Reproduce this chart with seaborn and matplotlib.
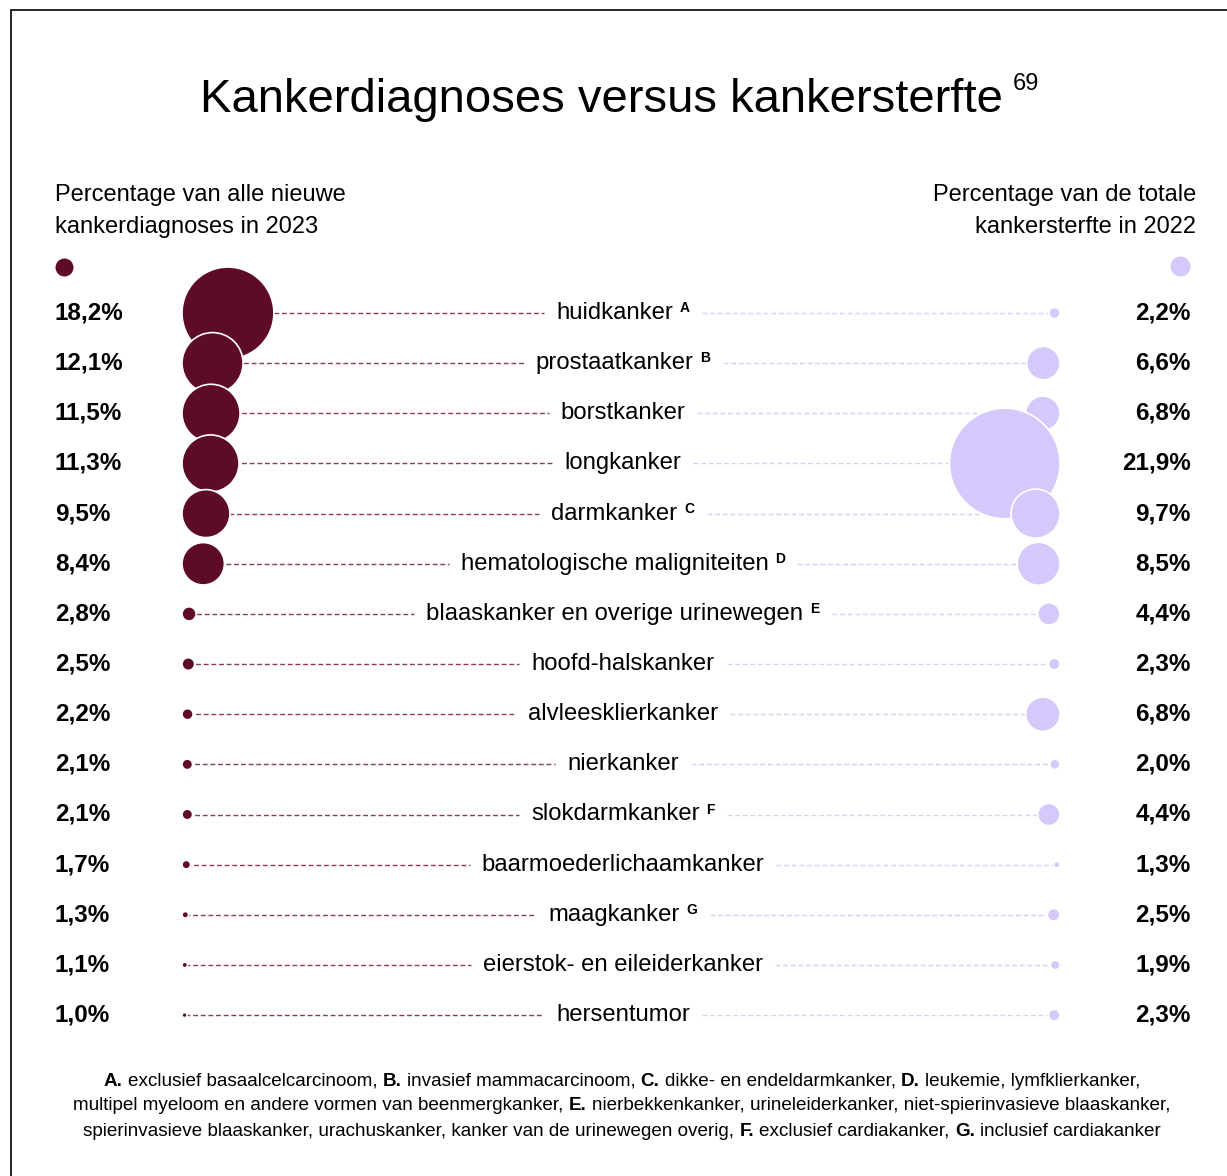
import numpy as np
import pandas as pd
import matplotlib.pyplot as plt
import seaborn as sns

# data
categories = ['huidkanker', 'prostaatkanker', 'borstkanker', 'longkanker', 'darmkanker',
              'hematologische maligniteiten', 'blaaskanker en overige urinewegen',
              'hoofd-halskanker', 'alvleesklierkanker', 'nierkanker', 'slokdarmkanker',
              'baarmoederlichaamkanker', 'maagkanker', 'eierstok- en eileiderkanker',
              'hersentumor']
footnote_marks = ['A', 'B', '', '', 'C', 'D', 'E', '', '', '', 'F', '', 'G', '', '']
diagnoses_pct = [18.2, 12.1, 11.5, 11.3, 9.5, 8.4, 2.8, 2.5, 2.2, 2.1, 2.1, 1.7, 1.3, 1.1, 1.0]
deaths_pct = [2.2, 6.6, 6.8, 21.9, 9.7, 8.5, 4.4, 2.3, 6.8, 2.0, 4.4, 1.3, 2.5, 1.9, 2.3]

title = 'Kankerdiagnoses versus kankersterfte'
title_ref = '69'
left_header = 'Percentage van alle nieuwe\nkankerdiagnoses in 2023'
right_header = 'Percentage van de totale\nkankersterfte in 2022'
footnote_lines = [
    [('A.', True), ('exclusief basaalcelcarcinoom,', False), ('B.', True),
     ('invasief mammacarcinoom,', False), ('C.', True), ('dikke- en endeldarmkanker,', False),
     ('D.', True), ('leukemie, lymfklierkanker,', False)],
    [('multipel myeloom en andere vormen van beenmergkanker,', False), ('E.', True),
     ('nierbekkenkanker, urineleiderkanker, niet-spierinvasieve blaaskanker,', False)],
    [('spierinvasieve blaaskanker, urachuskanker, kanker van de urinewegen overig,', False),
     ('F.', True), ('exclusief cardiakanker,', False), ('G.', True), ('inclusief cardiakanker', False)],
]

# layout (pixels)
W, H = 1227, 1176
row_top, row_step = 313, 50.15
left_anchor, right_anchor = 182, 1060
px_per_pct = 5.05
label_cx = 623
gap = 12

maroon = '#5e0b28'
lavender = '#d5c9fb'
maroon_line = '#8a3d58'
lavender_line = '#d8cdf8'

sns.set_theme(style='white')
plt.rcParams['font.family'] = ['Liberation Sans', 'DejaVu Sans']
plt.rcParams['text.color'] = 'black'

df = pd.DataFrame({'cancer': categories, 'mark': footnote_marks,
                   'diag': diagnoses_pct, 'death': deaths_pct})
df['y'] = row_top + row_step * np.arange(len(df))
df['d_left'] = px_per_pct * df.diag
df['d_right'] = px_per_pct * df.death
df['x_left'] = left_anchor + df.d_left / 2
df['x_right'] = right_anchor - df.d_right / 2

fig = plt.figure(figsize=(W / 100, H / 100), dpi=100)
ax = fig.add_axes([0, 0, 1, 1])
ax.set_xlim(0, W)
ax.set_ylim(H, 0)
ax.axis('off')

# frame
ax.plot([11, 11, W], [H, 10, 10], color='black', linewidth=1.2, solid_joinstyle='miter')

# title
t = ax.text(W / 2 - 12, 112, title, fontsize=34, ha='center', va='baseline')
fig.canvas.draw()
rend = fig.canvas.get_renderer()
inv = ax.transData.inverted()


def extent(txt):
    bb = txt.get_window_extent(rend)
    (x0, y0), (x1, y1) = inv.transform([[bb.x0, bb.y0], [bb.x1, bb.y1]])
    return x0, x1, min(y0, y1), max(y0, y1)


tx0, tx1, _, _ = extent(t)
ax.text(tx1 + 10, 73, title_ref, fontsize=17, ha='left', va='top')

# headers
ax.text(55, 184, left_header, fontsize=17, ha='left', va='top', linespacing=1.6)
ax.text(1196, 184, right_header, fontsize=17, ha='right', va='top', linespacing=1.6)
ax.scatter([64], [267], s=(18 * 0.72) ** 2, color=maroon, linewidths=0)
ax.scatter([1180], [266], s=(20 * 0.72) ** 2, color=lavender, linewidths=0)

# labels, superscripts and connector lines
for _, row in df.iterrows():
    lab = ax.text(0, row['y'], row['cancer'], fontsize=17.2, ha='left', va='center')
    w = extent(lab)[1] - extent(lab)[0]
    sup = None
    ws = 0
    if row['mark']:
        sup = ax.text(0, row['y'] - 12, row['mark'], fontsize=10, fontweight='bold',
                      ha='left', va='top')
        ws = extent(sup)[1] - extent(sup)[0] + 7
    x0 = label_cx - (w + ws) / 2
    lab.set_x(x0)
    if sup is not None:
        sup.set_x(x0 + w + 7)
    x1 = x0 + w + ws
    ax.plot([row['x_left'], x0 - gap], [row['y'], row['y']], color=maroon_line,
            linewidth=1, dashes=(3.5, 2), zorder=1)
    ax.plot([x1 + gap, row['x_right']], [row['y'], row['y']], color=lavender_line,
            linewidth=1, dashes=(3.5, 2), zorder=1)

# bubbles
sns.scatterplot(data=df, x='x_left', y='y', s=(df.d_left * 0.72) ** 2, color=maroon,
                edgecolor='white', linewidth=1.2, legend=False, ax=ax, zorder=3)
sns.scatterplot(data=df, x='x_right', y='y', s=(df.d_right * 0.72) ** 2, color=lavender,
                edgecolor='white', linewidth=1.2, legend=False, ax=ax, zorder=3)
ax.set_xlim(0, W)
ax.set_ylim(H, 0)
ax.set_xlabel('')
ax.set_ylabel('')

# values
for _, row in df.iterrows():
    ax.text(55, row['y'], f"{row['diag']:.1f}%".replace('.', ','), fontsize=17.5,
            fontweight='bold', ha='left', va='center')
    ax.text(1191, row['y'], f"{row['death']:.1f}%".replace('.', ','), fontsize=17.5,
            fontweight='bold', ha='right', va='center')

# footnote
fn_size = 13.6
sp = ax.text(0, 0, 'a a', fontsize=fn_size)
sp2 = ax.text(0, 0, 'aa', fontsize=fn_size)
space_w = (extent(sp)[1] - extent(sp)[0]) - (extent(sp2)[1] - extent(sp2)[0])
sp.remove()
sp2.remove()
for i, segs in enumerate(footnote_lines):
    y = 1081 + 25 * i
    objs = []
    for s, bold in segs:
        o = ax.text(0, y, s, fontsize=fn_size, fontweight='bold' if bold else 'normal',
                    ha='left', va='center')
        objs.append((o, extent(o)[1] - extent(o)[0]))
    total = sum(wd for _, wd in objs) + space_w * (len(objs) - 1)
    x = 622 - total / 2
    for o, wd in objs:
        o.set_x(x)
        x += wd + space_w

fig.savefig('out.png', dpi=100)
